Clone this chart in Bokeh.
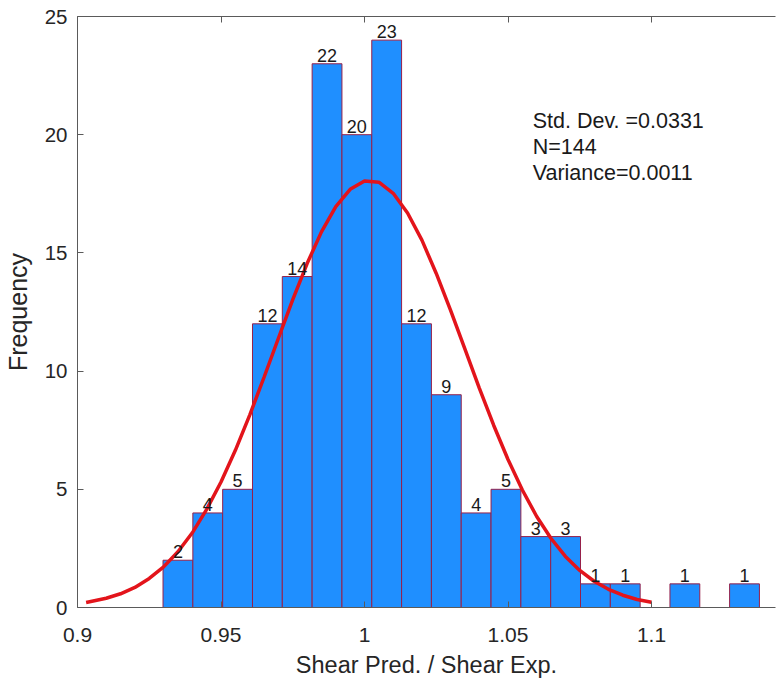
from bokeh.plotting import figure
from bokeh.models import Range1d, LinearAxis, FixedTicker, CustomJSTickFormatter, Label, ColumnDataSource
from bokeh.core.properties import value
from bokeh.embed import file_html
from bokeh.resources import INLINE

# ---- data ----
bin_start = 0.9298
bin_width = 0.01039
counts = [2, 4, 5, 12, 14, 23, 20, 24, 12, 9, 4, 5, 3, 3, 1, 1, 0, 1, 0, 1]
count_labels = ["2", "4", "5", "12", "14", "22", "20", "23", "12", "9",
                "4", "5", "3", "3", "1", "1", "", "1", "", "1"]

fit_x = [0.903, 0.910, 0.915, 0.920, 0.925, 0.930, 0.935, 0.940, 0.945, 0.950,
         0.955, 0.960, 0.965, 0.970, 0.975, 0.980, 0.985, 0.990, 0.995, 1.000,
         1.005, 1.010, 1.015, 1.020, 1.025, 1.030, 1.035, 1.040, 1.045, 1.050,
         1.055, 1.060, 1.065, 1.070, 1.075, 1.080, 1.085, 1.090, 1.095, 1.100]
fit_y = [0.21, 0.39, 0.58, 0.85, 1.23, 1.72, 2.36, 3.16, 4.15, 5.31,
         6.65, 8.14, 9.74, 11.39, 13.02, 14.55, 15.89, 16.96, 17.69, 18.04,
         17.99, 17.52, 16.69, 15.54, 14.13, 12.57, 10.93, 9.28, 7.71, 6.26,
         4.97, 3.85, 2.92, 2.16, 1.57, 1.11, 0.77, 0.52, 0.34, 0.22]

x_ticks = [0.9, 0.95, 1.0, 1.05, 1.1]
y_ticks = [0, 5, 10, 15, 20, 25]
stats_lines = ["Std. Dev. =0.0331", "N=144", "Variance=0.0011"]

FONT = "Liberation Sans"
TXT = "#262626"
AX = "#5a5a5a"

lefts = [bin_start + i * bin_width for i in range(len(counts))]
rights = [l + bin_width for l in lefts]
centers = [l + bin_width / 2 for l in lefts]

bars = ColumnDataSource(dict(
    left=[l for l, c in zip(lefts, counts) if c > 0],
    right=[r for r, c in zip(rights, counts) if c > 0],
    top=[c for c in counts if c > 0],
))
labels = ColumnDataSource(dict(
    x=[x for x, t in zip(centers, count_labels) if t],
    y=[c for c, t in zip(counts, count_labels) if t],
    text=[t for t in count_labels if t],
))

p = figure(width=770, height=673, frame_width=698, frame_height=591,
           x_range=Range1d(0.9, 1.1432), y_range=Range1d(0, 25),
           output_backend="svg", toolbar_location=None,
           min_border_left=70, min_border_right=2, min_border_top=16, min_border_bottom=66)
p.outline_line_color = None
p.background_fill_color = "white"
p.border_fill_color = "white"
p.xgrid.visible = False
p.ygrid.visible = False

p.quad(left="left", right="right", bottom=0, top="top", source=bars,
       fill_color="#1f8fff", line_color="#96204a", line_width=1)
p.line(fit_x, fit_y, line_color="#e3141b", line_width=3.5)

p.text(x="x", y="y", text="text", source=labels, text_align="center",
       text_baseline="bottom", y_offset=-2, text_font=value(FONT),
       text_font_size="18px", text_color="#1a1a1a")

for i, s in enumerate(stats_lines):
    p.add_layout(Label(x=1.0586, y=20.6 - i * 1.1, text=s, text_baseline="middle",
                       text_font=FONT, text_font_size="21.5px", text_color="#1a1a1a"))

def style_axis(ax):
    ax.axis_line_color = AX
    ax.major_tick_line_color = AX
    ax.major_tick_in = 6
    ax.major_tick_out = 0
    ax.minor_tick_line_color = None
    ax.major_label_text_font = FONT
    ax.major_label_text_font_size = "21px"
    ax.major_label_text_color = TXT
    ax.axis_label_text_font = FONT
    ax.axis_label_text_font_size = "23.5px"
    ax.axis_label_text_font_style = "normal"
    ax.axis_label_text_color = TXT

xa = p.xaxis[0]
style_axis(xa)
xa.ticker = FixedTicker(ticks=x_ticks)
xa.axis_label = "Shear Pred. / Shear Exp."
xa.major_label_standoff = 20
xa.axis_label_standoff = 7

ya = p.yaxis[0]
style_axis(ya)
ya.ticker = FixedTicker(ticks=y_ticks)
ya.major_label_text_font_size = "20.5px"
ya.axis_label_text_font_size = "25px"
ya.axis_label = "Frequency"
ya.major_label_standoff = 10
ya.axis_label_standoff = 10

top_ax = LinearAxis(ticker=FixedTicker(ticks=x_ticks),
                    formatter=CustomJSTickFormatter(code="return ''"))
style_axis(top_ax)
top_ax.major_label_standoff = 0
top_ax.major_label_text_font_size = "1px"
p.add_layout(top_ax, "above")

open("out.html", "w").write(file_html(p, INLINE))
